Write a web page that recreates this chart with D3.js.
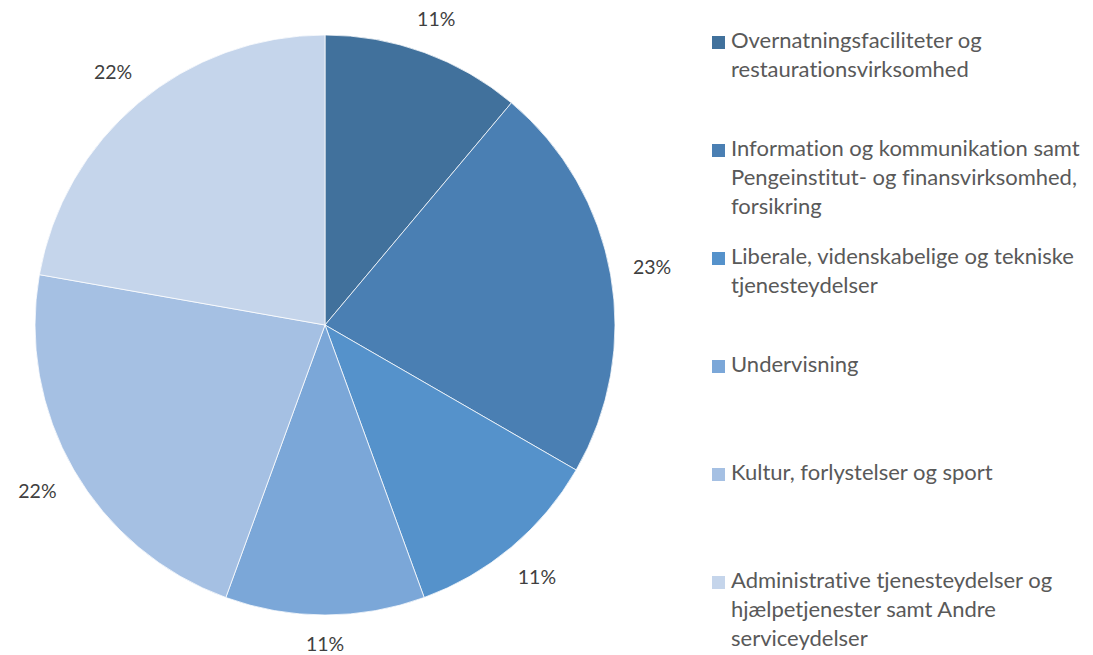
<!DOCTYPE html>
<html>
<head>
<meta charset="utf-8">
<script src="https://cdn.jsdelivr.net/npm/d3@7"></script>
<style>
  body { margin: 0; background: #fff; }
  svg { display: block; font-family: Lato, "Open Sans", sans-serif; font-variant-ligatures: none; }
</style>
</head>
<body>
<div id="chart"></div>
<script>
// slices, clockwise from 12 o'clock
var categories = [
  "Overnatningsfaciliteter og restaurationsvirksomhed",
  "Information og kommunikation samt Pengeinstitut- og finansvirksomhed, forsikring",
  "Liberale, videnskabelige og tekniske tjenesteydelser",
  "Undervisning",
  "Kultur, forlystelser og sport",
  "Administrative tjenesteydelser og hjælpetjenester samt Andre serviceydelser"
];
// legend line breaks as shown
var legendLines = [
  ["Overnatningsfaciliteter og", "restaurationsvirksomhed"],
  ["Information og kommunikation samt", "Pengeinstitut- og finansvirksomhed,", "forsikring"],
  ["Liberale, videnskabelige og tekniske", "tjenesteydelser"],
  ["Undervisning"],
  ["Kultur, forlystelser og sport"],
  ["Administrative tjenesteydelser og", "hjælpetjenester samt Andre", "serviceydelser"]
];
var values = [1, 2, 1, 1, 2, 2];
var percentLabels = ["11%", "23%", "11%", "11%", "22%", "22%"];
var colors = ["#41719c", "#4a7fb3", "#5592cb", "#7ba7d8", "#a5c0e3", "#c5d5eb"];

var width = 1093, height = 655;
var cx = 325, cy = 325, radius = 290;

var svg = d3.select("#chart").append("svg")
  .attr("width", width)
  .attr("height", height);

var pie = d3.pie().sort(null).value(function (d) { return d; });
var arcs = pie(values);

var arc = d3.arc().innerRadius(0).outerRadius(radius);

var g = svg.append("g").attr("transform", "translate(" + cx + "," + cy + ")");

g.selectAll("path")
  .data(arcs)
  .enter()
  .append("path")
  .attr("d", arc)
  .attr("fill", function (d, i) { return colors[i]; })
  .attr("stroke", "#fff")
  .attr("stroke-width", 0.75);

// labels outside the slices, box pushed out from the edge
var labels = g.selectAll("text.pct")
  .data(arcs)
  .enter()
  .append("text")
  .attr("class", "pct")
  .attr("text-anchor", "middle")
  .attr("dy", "0.35em")
  .attr("fill", "#404040")
  .style("font-size", "19.5px")
  .text(function (d, i) { return percentLabels[i]; });

labels.attr("transform", function (d) {
  var a = (d.startAngle + d.endAngle) / 2;
  var ux = Math.sin(a), uy = -Math.cos(a);
  var hw = this.getComputedTextLength() / 2, hh = 7;
  var dist = radius + 22 + Math.abs(ux) * hw + Math.abs(uy) * hh;
  return "translate(" + ux * dist + "," + uy * dist + ")";
});

// legend
var legend = svg.append("g").attr("transform", "translate(712,48)");
var item = legend.selectAll("g")
  .data(legendLines)
  .enter()
  .append("g")
  .attr("transform", function (d, i) { return "translate(0," + i * 108 + ")"; });

item.append("rect")
  .attr("x", 0)
  .attr("y", -12)
  .attr("width", 13)
  .attr("height", 13)
  .attr("fill", function (d, i) { return colors[i]; });

item.append("text")
  .attr("fill", "#595959")
  .style("font-size", "22px")
  .selectAll("tspan")
  .data(function (d) { return d; })
  .enter()
  .append("tspan")
  .attr("x", 19)
  .attr("y", function (d, j) { return j * 29; })
  .text(function (d) { return d; });
</script>
</body>
</html>
